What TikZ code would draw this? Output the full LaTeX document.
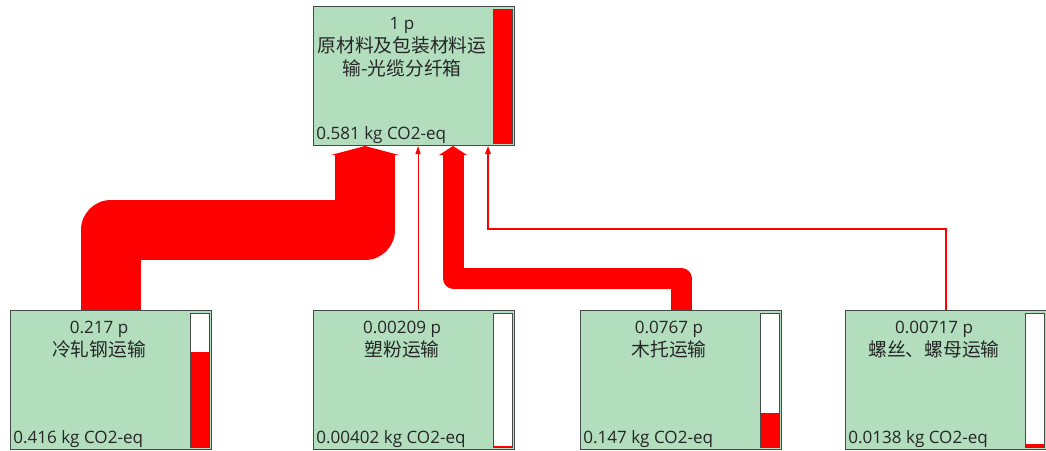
\documentclass[tikz,border=0pt]{standalone}
\usepackage{fontspec}
\setmainfont{Open Sans}
\newfontfamily\cjk[Scale=1.1]{Noto Sans CJK SC}
\usepackage{tikz}
\usetikzlibrary{arrows.meta,calc,positioning}
\definecolor{procfill}{HTML}{B2DEBE}
\definecolor{procline}{HTML}{454B48}
\definecolor{flowred}{HTML}{FF0000}

\begin{document}
\begin{tikzpicture}[x=0.75pt,y=-0.75pt,
  proc/.style={draw=procline,fill=procfill,line width=0.75pt,minimum width=150.75pt,minimum height=104.25pt,anchor=north west,inner sep=0pt},
  amt/.style={anchor=north,align=center,inner sep=0pt,text=black!85,font=\fontsize{12.8}{17.25}\selectfont},
  val/.style={anchor=base west,inner sep=0pt,text=black!85,font=\fontsize{12.8}{15}\selectfont},
  barline/.style={draw=procline,line width=0.75pt},
  bigflow/.style={draw=flowred,line join=round},
  thinflow/.style={draw=flowred,line join=miter}]
  \useasboundingbox (0,0) rectangle (1046,450);
  % top process
  \node[proc] (top) at (313,6) {};
  \node[amt] at ($(top.north west)+(89,11)$) {1 p\\{\cjk 原材料及包装材料运}\\{\cjk 输-光缆分纤箱}};
  \node[val] at ($(top.south west)+(3,-7)$) {0.581 kg CO2-eq};
  \fill[flowred] ($(top.north east)+(-22,3)$) rectangle ($(top.south east)+(-3,-3)$);
  \draw[barline] ($(top.north east)+(-22,3)$) rectangle ($(top.south east)+(-3,-3)$);
  % inputs
  \foreach \nm/\xx/\amount/\lbl/\val/\fr in {cold/10/0.217 p/冷轧钢运输/0.416/0.716,
      powder/313/0.00209 p/塑粉运输/0.00402/0.0069,
      wood/580/0.0767 p/木托运输/0.147/0.253,
      screw/845/0.00717 p/螺丝、螺母运输/0.0138/0.0238}{
    \node[proc] (\nm) at (\xx,310) {};
    \node[amt] at ($(\nm.north west)+(89,11)$) {\amount\\{\cjk \lbl}};
    \node[val] at ($(\nm.south west)+(3,-7)$) {\val\ kg CO2-eq};
    \fill[white] ($(\nm.north east)+(-22,3)$) rectangle ($(\nm.south east)+(-3,-3)$);
    \fill[flowred] ($(\nm.south east)+(-22,-3)$) rectangle ($(\nm.south east)+(-3,-3-133*\fr)$);
    \draw[barline] ($(\nm.north east)+(-22,3)$) rectangle ($(\nm.south east)+(-3,-3)$);
  }
  % flows
  \draw[bigflow,line width=45pt,-{Triangle[width=51pt,length=6.75pt,line width=0pt]}]
    (cold.north) |- ($(top.south west)+(52,84)$) -- ($(top.south west)+(52,0)$);
  \draw[thinflow,line width=0.75pt,-{Triangle[width=4pt,length=6pt,line width=0pt]}]
    ($(powder.north west)+(105,0)$) -- ($(top.south west)+(105,0)$);
  \draw[bigflow,line width=15.75pt,-{Triangle[width=21pt,length=6.75pt,line width=0pt]}]
    (wood.north) |- ($(top.south west)+(140,132)$) -- ($(top.south west)+(140,0)$);
  \draw[thinflow,line width=1.5pt,-{Triangle[width=4.5pt,length=6pt,line width=0pt]}]
    (screw.north) |- ($(top.south west)+(175,83)$) -- ($(top.south west)+(175,0)$);
\end{tikzpicture}
\end{document}
